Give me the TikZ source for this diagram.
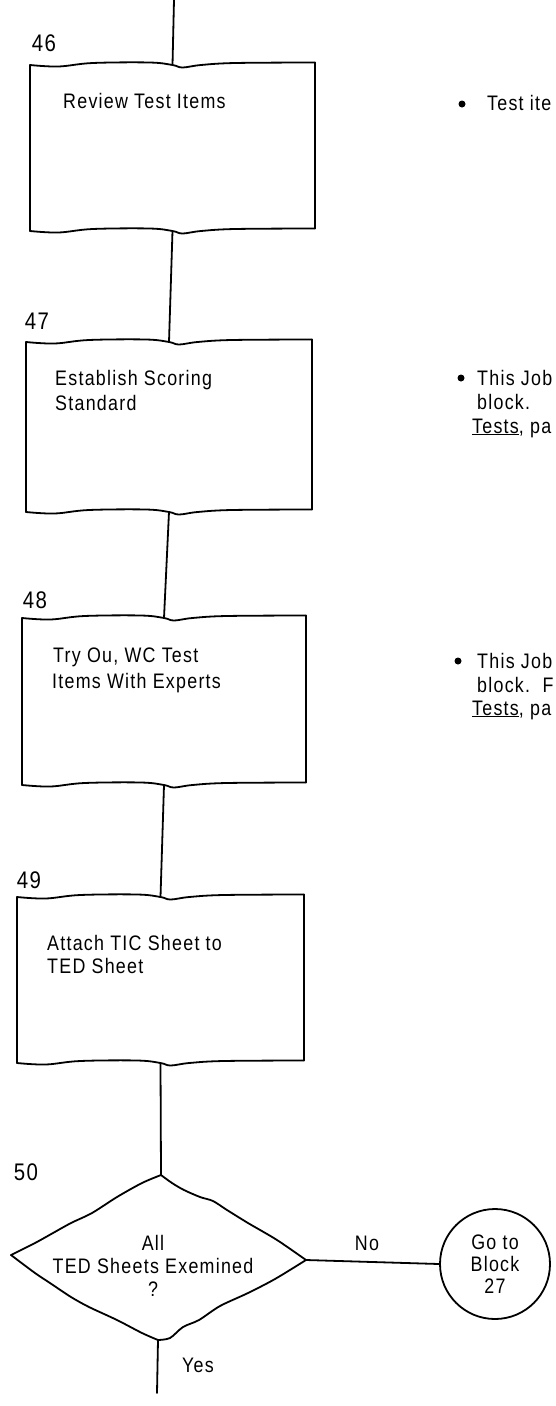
\documentclass[tikz,border=0pt]{standalone}
\usepackage{fontspec}
\setmainfont{Liberation Sans}[FakeStretch=0.85,LetterSpace=6]
\tikzset{
  ln/.style={line width=1.8pt, line cap=round, line join=round},
  lbl/.style={inner sep=0pt, font=\fontsize{21}{25}\selectfont, anchor=base west},
  clbl/.style={inner sep=0pt, font=\fontsize{21}{25}\selectfont, anchor=base},
  num/.style={inner sep=0pt, font=\fontsize{24}{28}\selectfont},
  bul/.style={circle, fill=black, inner sep=0pt, minimum size=7pt},
}
\newcommand\wavebox[5]{% name, xL, xR, yT, yB
  \begin{scope}[shift={(#2,0)}, xscale=#3-#2]
    \draw[ln] plot[smooth,tension=0.6] coordinates {(0,#4) (0.1,#4+1.5) (0.22,#4-2) (0.42,#4-2.5) (0.5,#4) (0.535,#4+2.5) (0.6,#4) (0.72,#4-2) (1,#4-2.5)};
    \draw[ln] plot[smooth,tension=0.6] coordinates {(0,#5) (0.1,#5+1.5) (0.22,#5-2) (0.42,#5-2.5) (0.5,#5) (0.535,#5+2.5) (0.6,#5) (0.72,#5-2) (1,#5-2.5)};
    \draw[ln] (0,#4) -- (0,#5);
    \draw[ln] (1,#4-2.5) -- (1,#5-2.5);
    \coordinate (#1t) at (0.5,#4);
    \coordinate (#1b) at (0.5,#5);
  \end{scope}}
\begin{document}
\begin{tikzpicture}[x=1pt,y=-1pt]
  \useasboundingbox (0,0) rectangle (556,1406);
  \fill[white] (0,0) rectangle (556,1406);
  \clip (0,0) rectangle (556,1406);

  % boxes
  \wavebox{b46}{30}{315}{65}{231}
  \wavebox{b47}{26}{312}{342}{512}
  \wavebox{b48}{22}{306}{618}{785}
  \wavebox{b49}{17}{304}{897}{1063}

  % block numbers
  \node[num] (n46) at (44,43) {46};
  \node[num] (n47) at (37,321) {47};
  \node[num] (n48) at (35,600) {48};
  \node[num] (n49) at (29,880) {49};
  \node[num] (n50) at (26,1172) {50};

  % box texts
  \node[lbl] (t46) at (63,108) {Review Test Items};
  \node[lbl] (t47a) at (55,385) {Establish Scoring};
  \node[lbl] (t47b) at (55,410) {Standard};
  \node[lbl] (t48a) at (53,662) {Try Ou, WC Test};
  \node[lbl] (t48b) at (52,688) {Items With Experts};
  \node[lbl] (t49a) at (47,950) {Attach TIC Sheet to};
  \node[lbl] (t49b) at (47,973) {TED Sheet};

  % decision
  \coordinate (dtop) at (161,1175);
  \coordinate (dright) at (306,1260);
  \coordinate (dbot) at (158,1340);
  \coordinate (dleft) at (11,1255);
  \draw[ln] plot[smooth,tension=0.5] coordinates {(dtop) (172,1183) (184,1190) (200,1197) (213,1201) (227,1210) (248,1223) (277,1240) (dright)};
  \draw[ln] plot[smooth,tension=0.5] coordinates {(dright) (275,1279) (248,1293) (220,1306) (199,1320) (183,1327) (170,1338) (dbot)};
  \draw[ln] plot[smooth,tension=0.5] coordinates {(dbot) (142,1333) (117,1320) (89,1307) (71,1297) (50,1283) (35,1273) (dleft)};
  \draw[ln] plot[smooth,tension=0.5] coordinates {(dleft) (35,1243) (53,1233) (71,1223) (92,1213) (117,1197) (142,1183) (dtop)};
  \node[inner sep=0pt, align=center, font=\fontsize{21}{23}\selectfont] (dtext) at (153,1266) {All\\TED Sheets Exemined\\?};

  % connector circle
  \node[draw, circle, line width=1.8pt, minimum size=110pt, inner sep=0pt, align=center,
        font=\fontsize{21}{22}\selectfont] (goto) at (495,1264) {Go to\\Block\\27};

  % connectors
  \coordinate (topin) at (174,0);
  \coordinate (yesend) at (157,1393);
  \draw[ln] (topin) -- (b46t);
  \draw[ln] (b46b) -- (b47t);
  \draw[ln] (b47b) -- (b48t);
  \draw[ln] (b48b) -- (b49t);
  \draw[ln] (b49b) -- (dtop);
  \draw[ln] (dright) -- (goto.west);
  \draw[ln] (dbot) -- (yesend);
  \node[clbl] (no) at (367,1250) {No};
  \node[clbl] (yes) at (198,1372) {Yes};

  % notes
  \node[bul] (bu1) at (462,104) {};
  \node[lbl] (r1) at (487,110) {Test ite};
  \node[bul] (bu2) at (461,378) {};
  \node[lbl] (r2a) at (477,385) {This Job};
  \node[lbl] (r2b) at (477,409) {block.};
  \node[lbl] (r2c) at (472,433) {\underline{Tests}, pa};
  \node[bul] (bu3) at (458,661) {};
  \node[lbl] (r3a) at (477,668) {This Job};
  \node[lbl] (r3b) at (477,692) {block.\ \ F};
  \node[lbl] (r3c) at (472,715) {\underline{Tests}, pa};
\end{tikzpicture}
\end{document}
